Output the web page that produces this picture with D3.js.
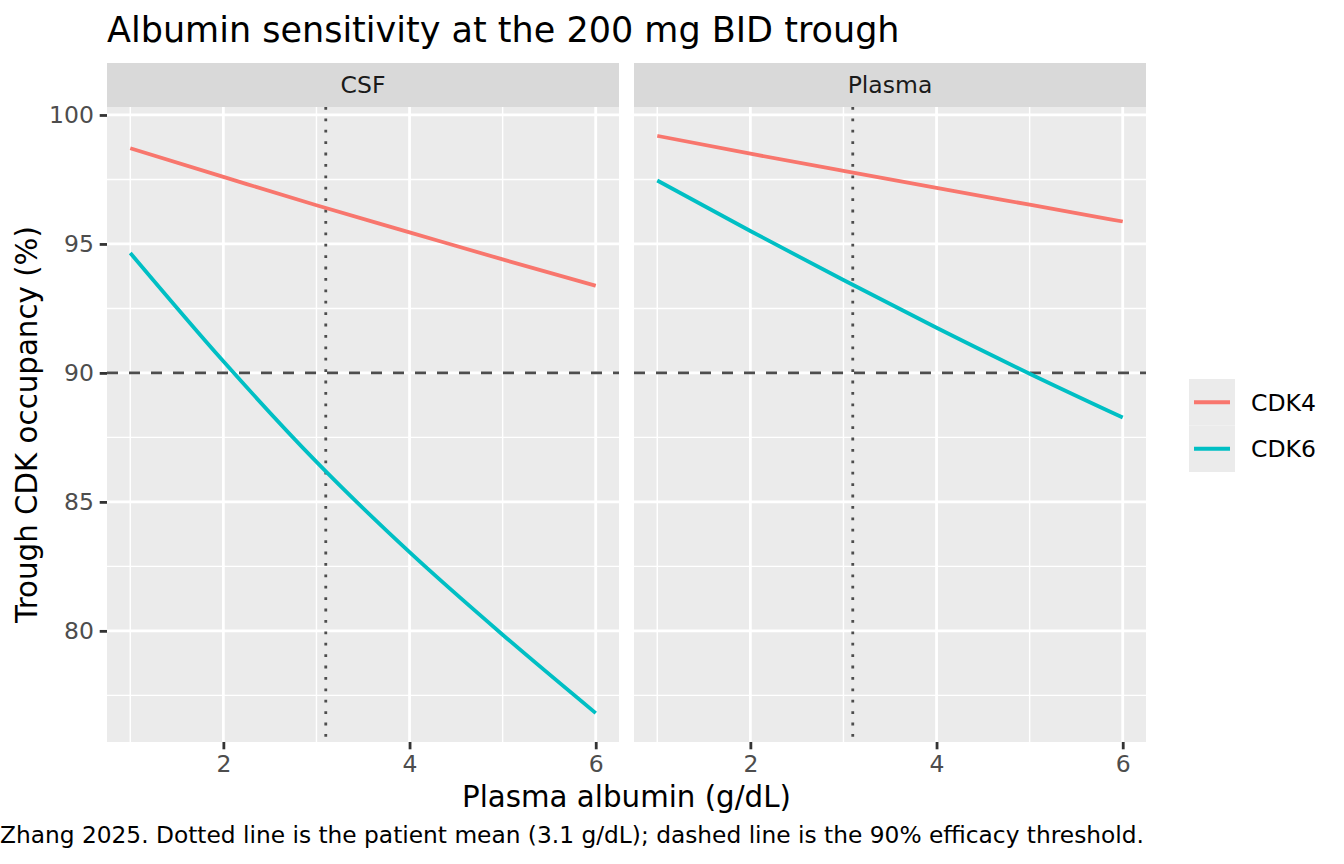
<!DOCTYPE html>
<html>
<head>
<meta charset="utf-8">
<script src="https://cdn.jsdelivr.net/npm/d3@7"></script>
<style>
  body { margin: 0; background: #ffffff; }
  svg { display: block; font-family: "DejaVu Sans", sans-serif; }
</style>
</head>
<body>
<div class="chart"></div>
<script>
// data
var albumin = [1, 2, 3, 4, 5, 6];
var compartments = ["CSF", "Plasma"];
var targets = ["CDK4", "CDK6"];
var csfCdk4 = [98.71, 97.6, 96.5, 95.45, 94.4, 93.38];
var csfCdk6 = [94.65, 90.45, 86.55, 83.05, 79.85, 76.81];
var plasmaCdk4 = [99.19, 98.5, 97.83, 97.17, 96.52, 95.87];
var plasmaCdk6 = [97.46, 95.5, 93.6, 91.75, 89.97, 88.27];
var xTicks = [2, 4, 6];
var xMinor = [1, 3, 5];
var yTicks = [80, 85, 90, 95, 100];
var yMinor = [77.5, 82.5, 87.5, 92.5, 97.5];
var patientMean = 3.1;
var threshold = 90;

var AlbuminChart = function(){

  return {

    init: function() {

      var colors = { "CDK4": "#F8766D", "CDK6": "#00BFC4" };

      // series per panel
      var panels = [
        { name: compartments[0], series: [ { target: "CDK4", values: csfCdk4 }, { target: "CDK6", values: csfCdk6 } ] },
        { name: compartments[1], series: [ { target: "CDK4", values: plasmaCdk4 }, { target: "CDK6", values: plasmaCdk6 } ] }
      ];

      // panel geometry
      var panelW = 512, panelTop = 107, panelBottom = 742, stripH = 44;
      var panelLeft = [107, 634];

      // y range from all values, expanded 5% like ggplot
      var all = [].concat(csfCdk4, csfCdk6, plasmaCdk4, plasmaCdk6);
      var ext = d3.extent(all);
      var pad = (ext[1] - ext[0]) * 0.05;

      var x = d3.scaleLinear()
        .domain([albumin[0] - 0.25, albumin[albumin.length - 1] + 0.25])
        .range([0, panelW]);

      var y = d3.scaleLinear()
        .domain([ext[0] - pad, ext[1] + pad])
        .range([panelBottom, panelTop]);

      var svg = d3.select(".chart").append("svg")
        .attr("width", 1344)
        .attr("height", 864);

      // title
      svg.append("text")
        .attr("x", 107)
        .attr("y", 42)
        .style("font-size", "35px")
        .style("fill", "#000")
        .text("Albumin sensitivity at the 200 mg BID trough");

      var line = d3.line()
        .x(function (d, i) { return x(albumin[i]); })
        .y(function (d) { return y(d); })
        .curve(d3.curveMonotoneX);

      panels.forEach(function (p, k) {
        var g = svg.append("g")
          .attr("transform", "translate(" + panelLeft[k] + ",0)");

        // strip
        g.append("rect")
          .attr("x", 0).attr("y", panelTop - stripH)
          .attr("width", panelW).attr("height", stripH)
          .style("fill", "#D9D9D9");
        g.append("text")
          .attr("x", panelW / 2)
          .attr("y", panelTop - stripH / 2)
          .attr("dy", "0.36em")
          .attr("text-anchor", "middle")
          .style("font-size", "23.5px")
          .style("fill", "#1A1A1A")
          .text(p.name);

        // panel background
        g.append("rect")
          .attr("x", 0).attr("y", panelTop)
          .attr("width", panelW).attr("height", panelBottom - panelTop)
          .style("fill", "#EBEBEB");

        // minor grid
        g.selectAll(".xminor").data(xMinor).enter().append("line")
          .attr("x1", function (d) { return x(d); })
          .attr("x2", function (d) { return x(d); })
          .attr("y1", panelTop).attr("y2", panelBottom)
          .style("stroke", "#fff").style("stroke-width", 1.4);
        g.selectAll(".yminor").data(yMinor).enter().append("line")
          .attr("x1", 0).attr("x2", panelW)
          .attr("y1", function (d) { return y(d); })
          .attr("y2", function (d) { return y(d); })
          .style("stroke", "#fff").style("stroke-width", 1.4);

        // major grid
        g.selectAll(".xmajor").data(xTicks).enter().append("line")
          .attr("x1", function (d) { return x(d); })
          .attr("x2", function (d) { return x(d); })
          .attr("y1", panelTop).attr("y2", panelBottom)
          .style("stroke", "#fff").style("stroke-width", 2.8);
        g.selectAll(".ymajor").data(yTicks).enter().append("line")
          .attr("x1", 0).attr("x2", panelW)
          .attr("y1", function (d) { return y(d); })
          .attr("y2", function (d) { return y(d); })
          .style("stroke", "#fff").style("stroke-width", 2.8);

        // threshold and patient mean
        g.append("line")
          .attr("x1", 0).attr("x2", panelW)
          .attr("y1", y(threshold)).attr("y2", y(threshold))
          .style("stroke", "#4D4D4D").style("stroke-width", 2.8)
          .style("stroke-dasharray", "11,11");
        g.append("line")
          .attr("x1", x(patientMean)).attr("x2", x(patientMean))
          .attr("y1", panelTop).attr("y2", panelBottom)
          .style("stroke", "#4D4D4D").style("stroke-width", 2.8)
          .style("stroke-dasharray", "2.8,8.6");

        // curves
        g.selectAll(".series").data(p.series).enter().append("path")
          .attr("d", function (d) { return line(d.values); })
          .style("fill", "none")
          .style("stroke", function (d) { return colors[d.target]; })
          .style("stroke-width", 3.8);

        // x axis
        var xAxis = d3.axisBottom(x).tickValues(xTicks).tickFormat(d3.format("d"))
          .tickSize(7.3).tickPadding(5.8);
        var ax = g.append("g")
          .attr("transform", "translate(0," + panelBottom + ")")
          .call(xAxis);
        ax.select(".domain").remove();
        ax.selectAll("line").style("stroke", "#333333").style("stroke-width", 2.8);
        ax.selectAll("text")
          .style("font-size", "23.5px")
          .style("font-family", "DejaVu Sans")
          .style("fill", "#4D4D4D");

        // y axis on the first panel only
        if (k === 0) {
          var yAxis = d3.axisLeft(y).tickValues(yTicks).tickFormat(d3.format("d"))
            .tickSize(7.3).tickPadding(5.8);
          var ay = g.append("g").call(yAxis);
          ay.select(".domain").remove();
          ay.selectAll("line").style("stroke", "#333333").style("stroke-width", 2.8);
          ay.selectAll("text")
            .style("font-size", "23.5px")
            .style("font-family", "DejaVu Sans")
            .style("fill", "#4D4D4D");
        }
      });

      // axis titles
      svg.append("text")
        .attr("x", (panelLeft[0] + panelLeft[1] + panelW) / 2)
        .attr("y", 807)
        .attr("text-anchor", "middle")
        .style("font-size", "29.3px")
        .text("Plasma albumin (g/dL)");

      svg.append("text")
        .attr("transform", "translate(37," + (panelTop + panelBottom) / 2 + ") rotate(-90)")
        .attr("text-anchor", "middle")
        .style("font-size", "29.3px")
        .text("Trough CDK occupancy (%)");

      // legend
      var legend = svg.append("g").attr("transform", "translate(1189,379)");
      var keys = legend.selectAll(".key").data(targets).enter().append("g")
        .attr("transform", function (d, i) { return "translate(0," + (i * 46.5) + ")"; });
      keys.append("rect")
        .attr("width", 46).attr("height", 46.5)
        .style("fill", "#EBEBEB");
      keys.append("line")
        .attr("x1", 5).attr("x2", 41)
        .attr("y1", 23.25).attr("y2", 23.25)
        .style("stroke", function (d) { return colors[d]; })
        .style("stroke-width", 3.8);
      keys.append("text")
        .attr("x", 62)
        .attr("y", 23.25)
        .attr("dy", "0.36em")
        .style("font-size", "23.5px")
        .text(function (d) { return d; });

      // caption, right aligned like ggplot, spills off the left edge
      svg.append("text")
        .attr("x", 1144)
        .attr("y", 843)
        .attr("text-anchor", "end")
        .style("font-size", "23.3px")
        .text("Zhang 2025. Dotted line is the patient mean (3.1 g/dL); dashed line is the 90% efficacy threshold.");

    }

  };

}();

AlbuminChart.init();
</script>
</body>
</html>
